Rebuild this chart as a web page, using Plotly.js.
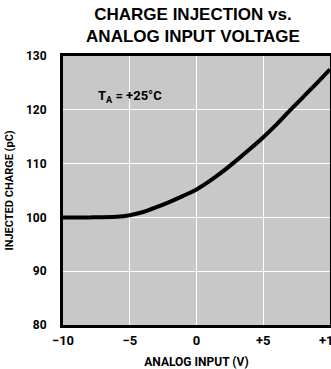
<!DOCTYPE html>
<html>
<head>
<meta charset="utf-8">
<script src="https://cdn.plot.ly/plotly-3.0.1.min.js"></script>
<style>
html,body{margin:0;padding:0;background:#fff;overflow:hidden;}
#chart{width:331px;height:369px;}
</style>
</head>
<body>
<div id="chart"></div>
<script>
// Data
const inputVoltage = [-10, -8, -6, -5, -4, -3, -2, -1, 0, 1, 2, 3, 4, 5, 6, 7, 8, 9, 10];
const injectedCharge = [100, 100, 100.1, 100.4, 101.0, 101.9, 102.9, 104.0, 105.2, 106.8, 108.6, 110.6, 112.7, 114.9, 117.3, 119.9, 122.4, 124.9, 127.5];
const xTickVals = [-10, -5, 0, 5, 10];
const xTickText = ['\u221210', '\u22125', '0', '+5', '+10'];
const yTickVals = [80, 90, 100, 110, 120, 130];
const yTickText = ['80', '90', '100', '110', '120', '130'];

const narrow = "Roboto, 'Liberation Sans', sans-serif";

const trace = {
  x: inputVoltage,
  y: injectedCharge,
  type: 'scatter',
  mode: 'lines',
  line: {color: '#000', width: 4, shape: 'spline', smoothing: 0.8},
  hoverinfo: 'skip'
};

const layout = {
  width: 331,
  height: 369,
  margin: {l: 63, r: 1, t: 56, b: 44},
  paper_bgcolor: '#ffffff',
  plot_bgcolor: '#c8c8c8',
  showlegend: false,
  title: {
    text: '<b>CHARGE INJECTION vs.<br>ANALOG INPUT VOLTAGE</b>',
    font: {family: "Liberation Sans, Arial, sans-serif", size: 17, color: '#000'},
    x: 0.583, xanchor: 'center',
    y: 0.947, yanchor: 'middle'
  },
  xaxis: {
    range: [-10, 10],
    tickvals: xTickVals,
    ticktext: xTickText,
    ticks: '',
    ticklabelstandoff: 1,
    ticklabeloverflow: 'allow',
    tickfont: {family: narrow, size: 13, color: '#000', weight: 'bold'},
    showgrid: true,
    gridcolor: '#ffffff',
    gridwidth: 1,
    zeroline: false,
    showline: true,
    linecolor: '#000',
    linewidth: 3,
    mirror: true,
    fixedrange: true,
    title: {
      text: 'ANALOG INPUT (V)',
      font: {family: narrow, size: 12, color: '#000', weight: 'bold'},
      standoff: 17
    }
  },
  yaxis: {
    range: [80, 130],
    tickvals: yTickVals,
    ticktext: yTickText,
    ticks: '',
    ticklabelstandoff: 11,
    tickfont: {family: narrow, size: 12, color: '#000', weight: 'bold'},
    showgrid: true,
    gridcolor: '#ffffff',
    gridwidth: 1,
    zeroline: false,
    showline: true,
    linecolor: '#000',
    linewidth: 3,
    mirror: true,
    fixedrange: true,
    title: {
      text: 'INJECTED CHARGE (pC)',
      font: {family: narrow, size: 11, color: '#000', weight: 'bold'},
      standoff: 11
    }
  },
  annotations: [{
    x: -7.5, y: 122.5, xref: 'x', yref: 'y',
    xanchor: 'left', yanchor: 'middle',
    text: 'T<sub>A</sub> = +25\u00B0C',
    showarrow: false,
    font: {family: narrow, size: 13, color: '#000', weight: 'bold'}
  }]
};

Plotly.newPlot('chart', [trace], layout, {staticPlot: true, displayModeBar: false});
</script>
</body>
</html>
